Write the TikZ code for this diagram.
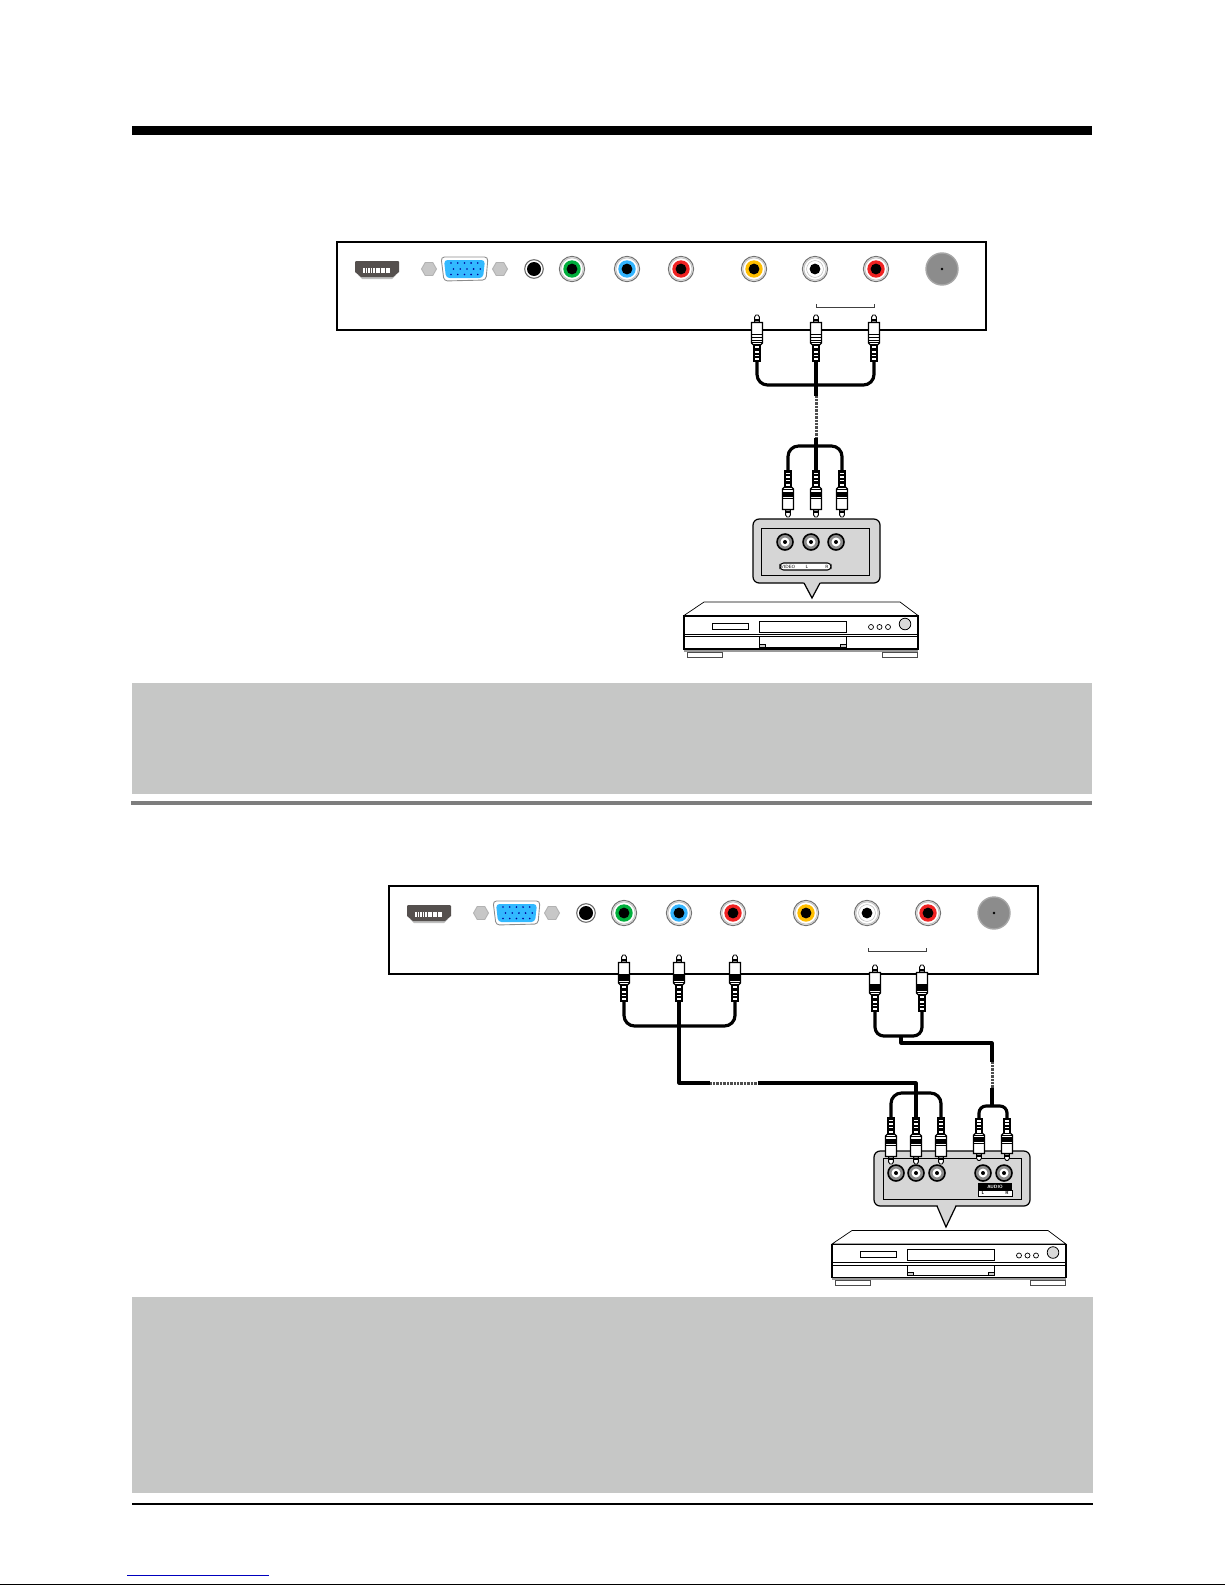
\documentclass[tikz,border=0pt]{standalone}
\usepackage{amsmath,amssymb}
\usepackage{color}

\definecolor{notegrey}{RGB}{198,199,198}
\definecolor{rulegrey}{RGB}{125,125,125}
\definecolor{bubblegrey}{RGB}{214,214,214}
\definecolor{hdmigrey}{RGB}{85,80,78}
\definecolor{vgablue}{RGB}{50,185,255}
\definecolor{jackgreen}{RGB}{0,175,60}
\definecolor{jackblue}{RGB}{50,180,255}
\definecolor{jackred}{RGB}{240,35,35}
\definecolor{jackyellow}{RGB}{255,190,0}
\definecolor{linkblue}{RGB}{0,0,190}

% drawn with its cable end at the origin and its tip 47 up
\newcommand{\plugbody}{
\draw[line width=0.5pt,fill=white] (-2.4,-40) -- (-2.4,-45) -- (-1,-47) -- (1,-47) -- (2.4,-45) -- (2.4,-40) -- cycle;
\draw[line width=0.9pt] (-2.4,-42) -- (2.4,-42);
\draw[line width=0.7pt,fill=white] (-5.5,-39.5) -- (5.5,-39.5) -- (5.5,-19) -- (3.5,-17) -- (-3.5,-17) -- (-5.5,-19) -- cycle;
\draw[line width=0.55pt] (-5.5,-28) -- (5.5,-28);
\draw[line width=0.55pt] (-5.5,-25) -- (5.5,-25);
\draw[line width=0.55pt] (-5.5,-22) -- (5.5,-22);
\draw[line width=0.55pt] (-5,-19.5) -- (5,-19.5);
\draw[line width=0.6pt,fill=white] (-3,-17) rectangle (3,-13);
\fill (-3.8,-13) rectangle (3.8,0);
\fill[white] (-2.2,-11) rectangle (2.2,-9.5);
\fill[white] (-2.2,-7.5) rectangle (2.2,-6);
\fill[white] (-2.2,-4) rectangle (2.2,-2.5);
}

\tikzset{
  cable/.style={line width=1.8pt,line join=round},
  trunk/.style={line width=2.2pt},
  braided/.style={line width=1.7pt,black!70,dash pattern=on 0.4pt off 0.4pt},
  bubblebox/.style={draw,line width=0.7pt,fill=bubblegrey,rounded corners=3.5pt},
  jackrim/.style={draw=black!55,line width=0.6pt,fill=white},
  tinylabel/.style={inner sep=0pt,font=\fontsize{2.6}{3}\selectfont\sffamily},
  rcaplug/.pic={\plugbody},
  rcaplugdark/.pic={
    \plugbody
    \fill (-5.5,-27) rectangle (5.5,-22);
  }
}

% one row of pins of the vga socket
\newcommand{\vgarow}[2]{
\fill[blue!60!black] (#1,#2) circle(0.9) (#1+6.7,#2) circle(0.9) (#1+13.4,#2) circle(0.9) (#1+20.1,#2) circle(0.9) (#1+26.8,#2) circle(0.9);
}

\newcommand{\rcajack}[2]{
\draw[jackrim] (#1,269) circle(12.6);
\draw[black!22,line width=0.6pt] (#1,269) circle(11.2);
\fill[#2] (#1,269) circle(8.7);
\fill (#1,269) circle(5.4);
}

\newcommand{\hexscrew}[1]{
\draw[draw=black!30,line width=0.5pt,fill=black!22] (#1-7.5,269) -- (#1-3.8,262.5) -- (#1+3.8,262.5) -- (#1+7.5,269) -- (#1+3.8,275.5) -- (#1-3.8,275.5) -- cycle;
}

% back of the set, drawn at the place of the upper one
\newcommand{\tvpanel}{
\draw[line width=1.25pt] (337,242) rectangle (986,330);

\fill[black!25] (358,275) -- (396,275) -- (392,279) -- (362,279) -- cycle;
\fill[hdmigrey] (355,262) -- (356,261) -- (398,261) -- (399,262) -- (399,272) -- (393,277) -- (361,277) -- (355,272) -- cycle;
\draw[white,line width=2.9pt,dash pattern=on 1pt off 0.45pt] (363,270.5) -- (391,270.5);

\hexscrew{429}
\hexscrew{500}
\draw[draw=black!45,line width=0.5pt,fill=white,rounded corners=2pt] (441,257) -- (488,257) -- (486,280) -- (444,281) -- cycle;
\fill[vgablue,rounded corners=2pt] (444,260) -- (485,260) -- (483,278) -- (446,278) -- cycle;
\vgarow{451}{263}
\vgarow{453.5}{269}
\vgarow{451}{274.5}

\draw[draw=black!60,line width=0.6pt,fill=white] (534,269) circle(9.3);
\fill (534,269) circle(7);

\rcajack{572}{jackgreen}
\rcajack{627}{jackblue}
\rcajack{681}{jackred}
\rcajack{754}{jackyellow}
\rcajack{815}{white}
\draw[black!30,line width=0.25pt] (815,269) circle(8.4);
\rcajack{876}{jackred}

\draw[draw=black!35,line width=0.8pt,fill=black!45] (942,269) circle(16);
\fill (942,269) circle(1.3);

\draw[black!75,line width=0.55pt] (816,304) -- (816,307) -- (874,307) -- (874,304);
}

% the disc player, drawn at the place of the upper one
\newcommand{\discplayer}{
\fill[black!40] (684,649) rectangle (918,651.5);
\draw[draw=black!70,line width=0.5pt,fill=white] (687,652) rectangle (722,657);
\draw[draw=black!70,line width=0.5pt,fill=white] (882,652) rectangle (917,657);
\draw[line width=0.4pt,fill=white] (684,615.5) -- (704,602) -- (900,602) -- (918,615.5) -- cycle;
\draw[line width=0.6pt,fill=white] (684,616) rectangle (918,649);
\draw[line width=0.4pt] (684,634) -- (918,634);
\draw[line width=0.4pt] (684,636.5) -- (918,636.5);
\draw[line width=0.45pt] (712,623) rectangle (748,629);
\draw[line width=0.45pt,fill=white] (759,621) rectangle (846,632);
\draw[line width=0.45pt,fill=white] (759,636.5) rectangle (846,647);
\draw[line width=0.35pt,fill=black!20] (759,644) rectangle (765,647);
\draw[line width=0.35pt,fill=black!20] (840,644) rectangle (846,647);
\draw[line width=0.4pt] (871,627) circle(2.5);
\draw[line width=0.4pt] (879.5,627) circle(2.5);
\draw[line width=0.4pt] (888,627) circle(2.5);
\draw[line width=0.45pt,fill=black!15] (905,624) circle(5.8);
}

\newcommand{\backjack}[2]{
\draw[line width=0.9pt,fill=black!45] (#1,#2) circle(8);
\fill[white] (#1,#2) circle(4.5);
\fill (#1,#2) circle(2);
}

\begin{document}
\begin{tikzpicture}[x=0.02cm,y=-0.02cm]
\useasboundingbox (0,0) rectangle (1225,1585);

\fill (132,126) rectangle (1092,135);
\fill[notegrey] (132,683) rectangle (1092,794);
\fill[rulegrey] (131,801) rectangle (1092,805);
\fill[notegrey] (132,1297) rectangle (1093,1493);
\fill (132,1503) rectangle (1093,1505);
\draw[linkblue,line width=0.55pt] (127,1575) -- (269,1575);
\draw[line width=0.7pt] (0,1584.2) -- (1225,1584.2);

%-------------------------------------
\tvpanel
\discplayer

\draw[bubblebox] (753,519) rectangle (880,583);
\fill[bubblegrey] (803.5,582) -- (820.5,582) -- (812,598) -- cycle;
\draw[line width=0.7pt] (804,583) -- (812,598) -- (820,583);
\draw[line width=0.5pt] (761,528) rectangle (869,575);
\backjack{785}{542}
\backjack{811}{542}
\backjack{836}{542}
\draw[line width=0.6pt,fill=white,rounded corners=2pt] (780,563) rectangle (831,570);
\node[tinylabel] (videolabel) at (788,566.5) {VIDEO};
\node[tinylabel] (leftlabel) at (807,566.5) {L};
\node[tinylabel] (rightlabel) at (827,566.5) {R};

\coordinate (topa) at (757,362);
\coordinate (topb) at (816,362);
\coordinate (topc) at (874,362);
\coordinate (lowa) at (788,470);
\coordinate (lowb) at (816,470);
\coordinate (lowc) at (842,470);
\coordinate (braidtop) at (816,396);
\coordinate (braidend) at (816,438);

\draw[cable,rounded corners=6pt] (topa) -- (757,385) -- (874,385) -- (topc);
\draw[trunk] (topb) -- (braidtop);
\draw[braided] (braidtop) -- (braidend);
\draw[trunk] (braidend) -- (lowb);
\draw[cable,rounded corners=6pt] (lowa) -- (788,446) -- (842,446) -- (lowc);

\pic at (topa) {rcaplug};
\pic at (topb) {rcaplug};
\pic at (topc) {rcaplug};
\pic[yscale=-1] at (lowa) {rcaplugdark};
\pic[yscale=-1] at (lowb) {rcaplugdark};
\pic[yscale=-1] at (lowc) {rcaplugdark};

%-------------------------------------
\begin{scope}[shift={(52,644)}]
\tvpanel
\end{scope}
\begin{scope}[shift={(148,628.5)}]
\discplayer
\end{scope}

\draw[bubblebox] (874,1151) rectangle (1030,1206);
\fill[bubblegrey] (937.5,1205) -- (955.5,1205) -- (946,1227) -- cycle;
\draw[line width=0.7pt] (937,1206) -- (946,1227) -- (956,1206);
\draw[line width=0.5pt] (883,1158) rectangle (1021,1199);
\backjack{896}{1173}
\backjack{916}{1173}
\backjack{937}{1173}
\backjack{983}{1173}
\backjack{1004}{1173}
\fill (978,1183) rectangle (1012,1190);
\draw[line width=0.5pt,fill=white] (978,1190) rectangle (1012,1196);
\node[tinylabel,text=white] (audiolabel) at (995,1186.5) {\textbf{AUDIO}};
\node[tinylabel] (audioleft) at (983,1193) {\textbf{L}};
\node[tinylabel] (audioright) at (1007,1193) {\textbf{R}};

\coordinate (compa) at (624,1002);
\coordinate (compb) at (679,1002);
\coordinate (compc) at (735,1002);
\coordinate (audl) at (875,1012);
\coordinate (audr) at (922,1012);
\coordinate (srca) at (891,1117);
\coordinate (srcb) at (916,1117);
\coordinate (srcc) at (941,1117);
\coordinate (srcl) at (979,1118);
\coordinate (srcr) at (1007,1118);
\coordinate (braidb) at (710,1083);
\coordinate (braidc) at (758,1083);
\coordinate (braidd) at (992,1062);
\coordinate (braide) at (992,1088);

\draw[cable,rounded corners=6pt] (compa) -- (624,1026) -- (735,1026) -- (compc);
\draw[cable] (compb) -- (679,1083) -- (braidb);
\draw[braided] (braidb) -- (braidc);
\draw[cable] (braidc) -- (916,1083) -- (srcb);
\draw[cable,rounded corners=6pt] (srca) -- (891,1093) -- (941,1093) -- (srcc);

\draw[cable,rounded corners=5pt] (audl) -- (875,1036) -- (922,1036) -- (audr);
\draw[cable] (901,1036) -- (901,1043) -- (992,1043) -- (braidd);
\draw[braided] (braidd) -- (braide);
\draw[cable] (braide) -- (992,1106);
\draw[cable,rounded corners=4pt] (srcl) -- (979,1106) -- (1007,1106) -- (srcr);

\pic at (compa) {rcaplugdark};
\pic at (compb) {rcaplugdark};
\pic at (compc) {rcaplugdark};
\pic at (audl) {rcaplugdark};
\pic at (audr) {rcaplugdark};
\pic[yscale=-1] at (srca) {rcaplugdark};
\pic[yscale=-1] at (srcb) {rcaplugdark};
\pic[yscale=-1] at (srcc) {rcaplugdark};
\pic[yscale=-0.9] at (srcl) {rcaplugdark};
\pic[yscale=-0.9] at (srcr) {rcaplugdark};
\end{tikzpicture}
\end{document}
